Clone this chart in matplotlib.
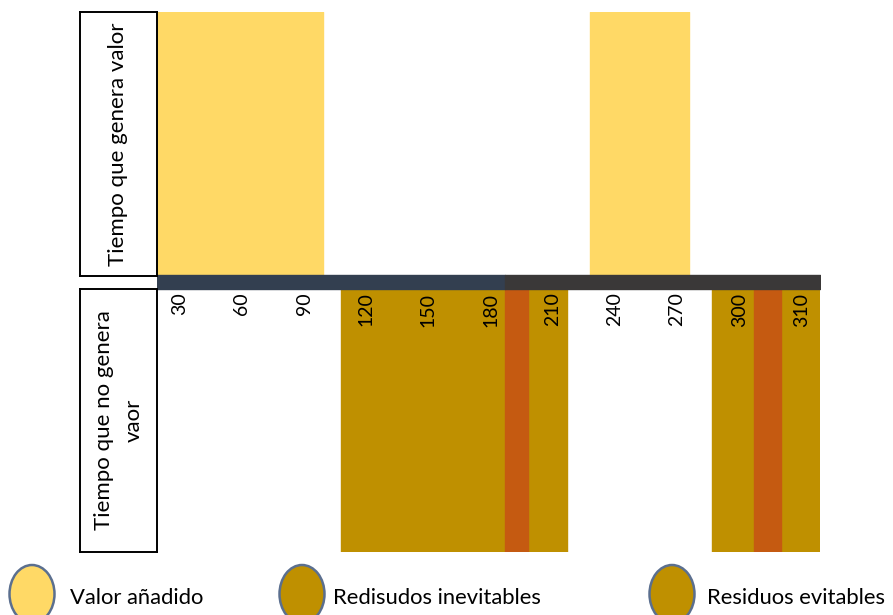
import matplotlib.pyplot as plt
from matplotlib.patches import Ellipse

plt.rcParams['font.family'] = ['Lato', 'DejaVu Sans']

# timeline slots (one tick every slot of 30)
ticks = [30, 60, 90, 120, 150, 180, 210, 240, 270, 300, 330]
tick_labels = ['30', '60', '90', '120', '150', '180', '210', '240', '270', '300', '310']

# (start, end) on the timeline
value_added = [(19, 99), (228, 276)]
unavoidable = [(108, 187), (198, 217), (287, 307), (320, 339)]
avoidable = [(187, 198), (307, 320)]
t_start, t_split, t_end = 19, 187, 339

legend_labels = ['Valor añadido', 'Redisudos inevitables', 'Residuos evitables']
legend_colors = ['#FFD966', '#BF9000', '#BF9000']

yellow = '#FFD966'
brown = '#BF9000'
orange = '#C55A11'
navy = '#333F50'
dark = '#3A3838'

W, H = 893, 615
fig = plt.figure(figsize=(W / 100, H / 100), dpi=100)

ax = fig.add_axes([157 / W, 1 - 552 / H, 663 / W, 540 / H])
ax.set_xlim(t_start, t_end)
ax.set_ylim(-1.05, 1.0)
ax.axis('off')

def spans(segs):
    return [(s, e - s) for s, e in segs]

ax.broken_barh(spans(value_added), (0, 1), color=yellow)
ax.broken_barh(spans(unavoidable), (-1.05, 1.0), color=brown)
ax.broken_barh(spans(avoidable), (-1.05, 1.0), color=orange)
ax.broken_barh([(t_start, t_split - t_start)], (-0.05, 0.05), color=navy)
ax.broken_barh([(t_split, t_end - t_split)], (-0.05, 0.05), color=dark)

for t, lab in zip(ticks, tick_labels):
    ax.text(t, -0.065, lab, rotation=90, ha='center', va='top', fontsize=14)

# row header boxes
def header(bottom_px, top_px, text, spacing=1.2):
    hx = fig.add_axes([80 / W, 1 - bottom_px / H, 77 / W, (bottom_px - top_px) / H])
    hx.set_xticks([])
    hx.set_yticks([])
    for sp in hx.spines.values():
        sp.set_linewidth(1.4)
        sp.set_color('black')
    hx.text(0.5, 0.5, text, rotation=90, ha='center', va='center',
            fontsize=16, linespacing=spacing, multialignment='center',
            transform=hx.transAxes)

header(276, 12, 'Tiempo que genera valor')
header(552, 289, 'Tiempo que no genera\nvaor', spacing=1.6)

# legend
leg_x = [32, 302, 672]
text_x = [70, 333, 707]
for cx, tx, lab, col in zip(leg_x, text_x, legend_labels, legend_colors):
    fig.add_artist(Ellipse((cx / W, 1 - 594 / H), 45 / W, 58 / H,
                           transform=fig.transFigure, facecolor=col,
                           edgecolor='#5B6F8F', linewidth=1.8))
    fig.text(tx / W, 1 - 598 / H, lab, ha='left', va='center', fontsize=15.8)

fig.savefig('out.png', dpi=100)
